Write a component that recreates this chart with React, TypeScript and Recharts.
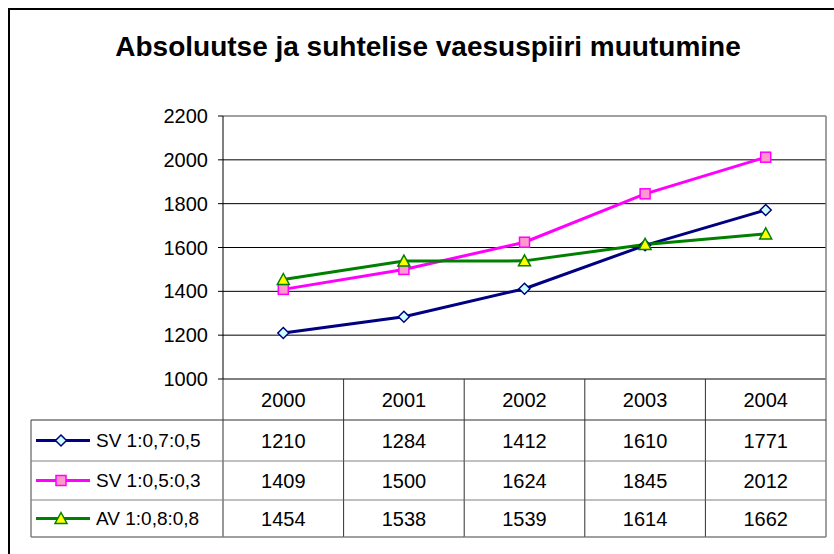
import React from "react";
import { LineChart, Line, XAxis, YAxis, CartesianGrid, ReferenceLine } from "recharts";

const YEARS = ["2000", "2001", "2002", "2003", "2004"];
const SV_07_05 = [1210, 1284, 1412, 1610, 1771];
const SV_05_03 = [1409, 1500, 1624, 1845, 2012];
const AV_08_08 = [1454, 1538, 1539, 1614, 1662];
const Y_TICKS = [1000, 1200, 1400, 1600, 1800, 2000, 2200];
const INNER_GRID = [1200, 1400, 1600, 1800, 2000];

const SERIES = [
  { key: "sv1", name: "SV 1:0,7:0,5", values: SV_07_05, stroke: "#000080", fill: "#ccffff", marker: "diamond" },
  { key: "sv2", name: "SV 1:0,5:0,3", values: SV_05_03, stroke: "#ff00ff", fill: "#ff99cc", marker: "square" },
  { key: "av", name: "AV 1:0,8:0,8", values: AV_08_08, stroke: "#008000", fill: "#ffff00", marker: "triangle" },
];

const data = YEARS.map((year, i) => {
  const row: Record<string, string | number> = { year };
  SERIES.forEach((s) => {
    row[s.key] = s.values[i];
  });
  return row;
});

const FONT = "'Liberation Sans', Arial, sans-serif";
// table row edges, measured down from the x axis line
const ROW_EDGES = [0, 41, 82, 121, 158];
const LEGEND_LEFT = 31;
const LINE_DARK = "#303030";
const LINE_GRAY = "#808080";

function Marker({ type, cx, cy, stroke, fill }: any) {
  if (type === "diamond") {
    return (
      <polygon
        points={`${cx},${cy - 5.5} ${cx + 5.5},${cy} ${cx},${cy + 5.5} ${cx - 5.5},${cy}`}
        fill={fill}
        stroke={stroke}
        strokeWidth={1.5}
      />
    );
  }
  if (type === "square") {
    return <rect x={cx - 5} y={cy - 5} width={10} height={10} fill={fill} stroke={stroke} strokeWidth={1.5} />;
  }
  return (
    <polygon
      points={`${cx},${cy - 6} ${cx + 6},${cy + 5} ${cx - 6},${cy + 5}`}
      fill={fill}
      stroke={stroke}
      strokeWidth={1.5}
    />
  );
}

function TableColumn(props: any) {
  const { x, y, payload, index } = props;
  const half = payload.offset || (826 - 223) / YEARS.length / 2;
  const left = x - half;
  const right = x + half;
  const mid = (a: number, b: number) => y + (ROW_EDGES[a] + ROW_EDGES[b]) / 2;
  const last = index === YEARS.length - 1;

  return (
    <g>
      <line x1={left} x2={left} y1={y} y2={y + ROW_EDGES[4]} stroke={LINE_DARK} />
      {last && <line x1={right} x2={right} y1={y} y2={y + ROW_EDGES[4]} stroke={LINE_GRAY} strokeWidth={1.5} />}
      <line x1={left} x2={right} y1={y + ROW_EDGES[1]} y2={y + ROW_EDGES[1]} stroke={LINE_DARK} />
      <line x1={left} x2={right} y1={y + ROW_EDGES[2]} y2={y + ROW_EDGES[2]} stroke={LINE_GRAY} />
      <line x1={left} x2={right} y1={y + ROW_EDGES[3]} y2={y + ROW_EDGES[3]} stroke={LINE_GRAY} />
      <line x1={left} x2={right} y1={y + ROW_EDGES[4]} y2={y + ROW_EDGES[4]} stroke={LINE_GRAY} strokeWidth={1.5} />
      <text x={x} y={mid(0, 1)} textAnchor="middle" dominantBaseline="central" fontSize={20} fill="#000">
        {payload.value}
      </text>
      {SERIES.map((s, r) => (
        <text key={s.key} x={x} y={mid(r + 1, r + 2)} textAnchor="middle" dominantBaseline="central" fontSize={20} fill="#000">
          {s.values[index]}
        </text>
      ))}

      {index === 0 && (
        <g>
          <line x1={LEGEND_LEFT} x2={LEGEND_LEFT} y1={y + ROW_EDGES[1]} y2={y + ROW_EDGES[4]} stroke={LINE_GRAY} strokeWidth={1.5} />
          <line x1={LEGEND_LEFT} x2={left} y1={y + ROW_EDGES[1]} y2={y + ROW_EDGES[1]} stroke={LINE_DARK} />
          <line x1={LEGEND_LEFT} x2={left} y1={y + ROW_EDGES[2]} y2={y + ROW_EDGES[2]} stroke={LINE_GRAY} />
          <line x1={LEGEND_LEFT} x2={left} y1={y + ROW_EDGES[3]} y2={y + ROW_EDGES[3]} stroke={LINE_GRAY} />
          <line x1={LEGEND_LEFT} x2={left} y1={y + ROW_EDGES[4]} y2={y + ROW_EDGES[4]} stroke={LINE_GRAY} strokeWidth={1.5} />
          {SERIES.map((s, r) => {
            const cy = mid(r + 1, r + 2);
            return (
              <g key={s.key}>
                <line x1={LEGEND_LEFT + 5} x2={LEGEND_LEFT + 59} y1={cy} y2={cy} stroke={s.stroke} strokeWidth={3} />
                <Marker type={s.marker} cx={LEGEND_LEFT + 30} cy={cy} stroke={s.stroke} fill={s.fill} />
                <text x={LEGEND_LEFT + 65} y={cy} dominantBaseline="central" fontSize={19} fill="#000">
                  {s.name}
                </text>
              </g>
            );
          })}
        </g>
      )}
    </g>
  );
}

export default function App() {
  return (
    <div
      style={{
        position: "absolute",
        left: 0,
        top: 0,
        width: 834,
        height: 554,
        overflow: "hidden",
        background: "#fff",
        fontFamily: FONT,
      }}
    >
      <div
        style={{
          position: "absolute",
          left: 8,
          top: 8,
          width: 900,
          height: 700,
          border: "2px solid #000",
        }}
      />
      <div
        style={{
          position: "absolute",
          left: 10,
          width: 836,
          top: 29,
          textAlign: "center",
          fontWeight: "bold",
          fontSize: 28,
          lineHeight: "36px",
        }}
      >
        Absoluutse ja suhtelise vaesuspiiri muutumine
      </div>
      <div style={{ position: "absolute", left: 0, top: 0 }}>
        <LineChart width={834} height={554} data={data} margin={{ top: 116, right: 7, bottom: 17, left: 163 }}>
          <CartesianGrid horizontal vertical={false} horizontalValues={INNER_GRID} stroke="#000" strokeOpacity={1} />
          <ReferenceLine y={2200} stroke={LINE_GRAY} strokeWidth={1.5} />
          <XAxis
            dataKey="year"
            scale="band"
            height={158}
            interval={0}
            tickSize={0}
            tickMargin={0}
            tickLine={false}
            axisLine={{ stroke: "#000" }}
            tick={<TableColumn />}
          />
          <YAxis
            width={60}
            domain={[1000, 2200]}
            ticks={Y_TICKS}
            interval={0}
            tickSize={5}
            tickMargin={10}
            axisLine={{ stroke: "#000" }}
            tickLine={{ stroke: "#000" }}
            tick={{ fontSize: 20, fill: "#000" }}
          />
          <YAxis
            yAxisId="right"
            orientation="right"
            width={1}
            domain={[1000, 2200]}
            tick={false}
            tickLine={false}
            axisLine={{ stroke: LINE_GRAY, strokeWidth: 1.5 }}
          />
          {SERIES.map((s) => (
            <Line
              key={s.key}
              type="linear"
              dataKey={s.key}
              name={s.name}
              stroke={s.stroke}
              strokeWidth={3}
              isAnimationActive={false}
              dot={(p: any) => (
                <Marker key={`${s.key}-${p.index}`} type={s.marker} cx={p.cx} cy={p.cy} stroke={s.stroke} fill={s.fill} />
              )}
              activeDot={false}
            />
          ))}
        </LineChart>
      </div>
    </div>
  );
}
